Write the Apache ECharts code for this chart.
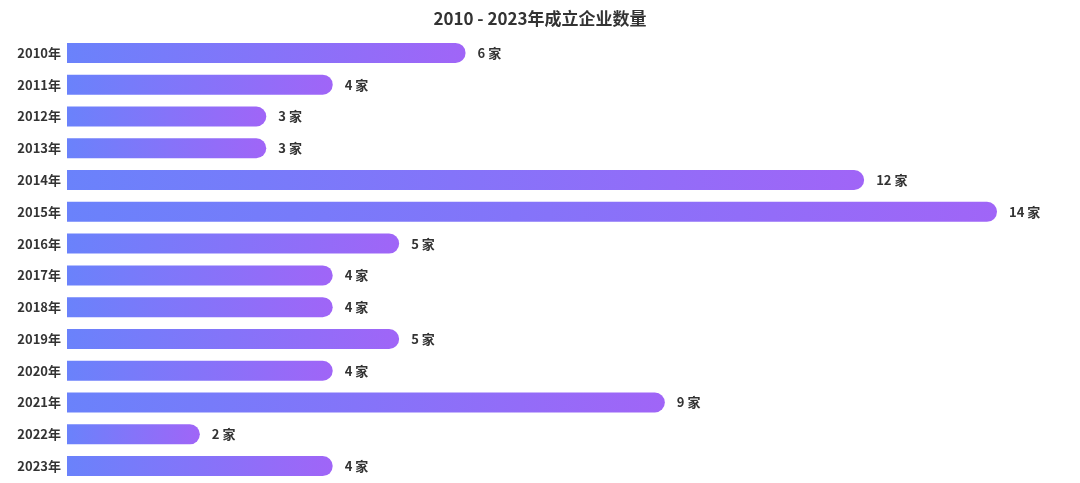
<!DOCTYPE html>
<html>
<head>
<meta charset="utf-8">
<script src="https://cdn.jsdelivr.net/npm/echarts@6/dist/echarts.min.js"></script>
<style>
html,body{margin:0;padding:0;background:#fff;}
#c{width:1080px;height:483px;}
</style>
</head>
<body>
<div id="c"></div>
<script>
const titleText = '2010 - 2023年成立企业数量';
const categories = ['2010年','2011年','2012年','2013年','2014年','2015年','2016年','2017年','2018年','2019年','2020年','2021年','2022年','2023年'];
const counts = [6,4,3,3,12,14,5,4,4,5,4,9,2,4];
const unit = '家';

const chart = echarts.init(document.getElementById('c'), null, {renderer:'canvas'});
chart.setOption({
  animation: false,
  backgroundColor: '#fff',
  title: {
    text: titleText,
    left: 'center',
    top: 5,
    textStyle: {fontSize: 17, fontWeight: 'bold', color: '#333', fontFamily: '"Noto Sans CJK SC", "Noto Sans", sans-serif'}
  },
  grid: {left: 67, right: 83, top: 37, bottom: 1, containLabel: false},
  xAxis: {
    type: 'value', min: 0, max: 14, show: false
  },
  yAxis: {
    type: 'category',
    data: categories,
    inverse: true,
    axisLine: {show: false},
    axisTick: {show: false},
    axisLabel: {
      margin: 6,
      fontSize: 13, fontWeight: 'bold', color: '#333',
      fontFamily: '"Noto Sans CJK SC", "Noto Sans", sans-serif'
    }
  },
  series: [{
    type: 'bar',
    data: counts,
    barWidth: 20,
    itemStyle: {
      borderRadius: [0, 10, 10, 0],
      color: new echarts.graphic.LinearGradient(0, 0, 1, 0, [
        {offset: 0, color: '#6a82fb'},
        {offset: 1, color: '#a065f7'}
      ])
    },
    label: {
      show: true,
      position: 'right',
      distance: 12,
      formatter: p => p.value + ' ' + unit,
      fontSize: 13, fontWeight: 'bold', color: '#333',
      fontFamily: '"Noto Sans CJK SC", "Noto Sans", sans-serif'
    }
  }]
});
</script>
</body>
</html>
